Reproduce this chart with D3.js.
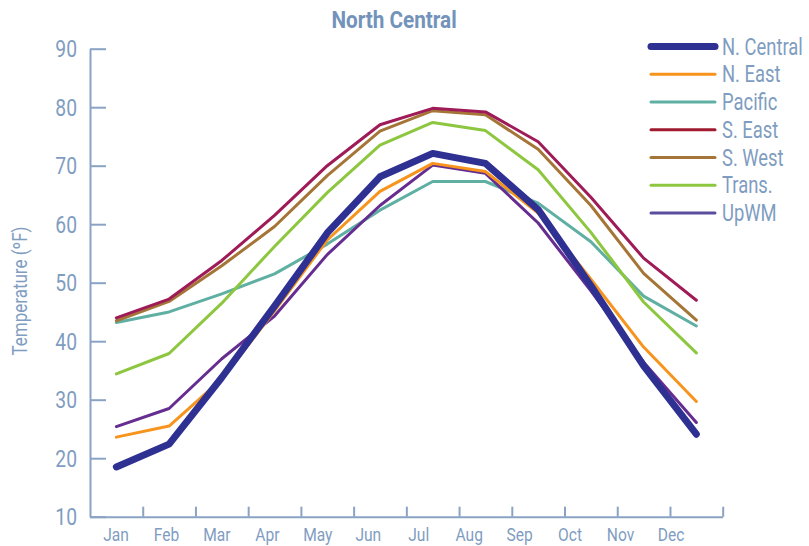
<!DOCTYPE html>
<html>
<head>
<meta charset="utf-8">
<script src="https://cdn.jsdelivr.net/npm/d3@7"></script>
<style>
  html, body { margin: 0; padding: 0; background: #fff; }
  svg { display: block; }
  text { font-family: Roboto, "Noto Sans", sans-serif; }
</style>
</head>
<body>
<svg id="chart" width="809" height="546"></svg>
<script>
const title = "North Central";
const yTitle = "Temperature (ºF)";
const months = ["Jan","Feb","Mar","Apr","May","Jun","Jul","Aug","Sep","Oct","Nov","Dec"];
const yTicks = [10,20,30,40,50,60,70,80,90];

const seriesNames = ["N. Central","N. East","Pacific","S. East","S. West","Trans.","UpWM"];
const nCentral = [18.5,22.4,33.8,46.0,58.5,68.1,72.1,70.4,62.5,49.5,35.8,24.1];
const nEast    = [23.6,25.5,33.5,45.2,57.3,65.6,70.4,69.0,61.9,50.6,39.0,29.7];
const pacific  = [43.2,45.0,48.1,51.5,56.6,62.4,67.3,67.3,63.6,57.0,47.7,42.6];
const sEast    = [44.0,47.2,53.8,61.5,70.0,77.0,79.8,79.2,74.1,64.6,54.2,47.0];
const sWest    = [43.5,46.8,52.9,59.6,68.3,75.9,79.4,78.7,72.8,63.2,51.6,43.6];
const trans    = [34.4,37.9,46.5,56.2,65.4,73.5,77.4,76.0,69.3,58.6,46.7,38.0];
const upwm     = [25.4,28.5,37.0,44.3,54.8,63.2,70.1,68.7,60.2,48.6,36.4,26.1];
const seriesValues = [nCentral, nEast, pacific, sEast, sWest, trans, upwm];

const colors = ["#2e3192","#f7941d","#5fafa3","#9e1b58","#a57537","#8dc63f","#662d91"];
const legendColors = ["#2e3192","#f7941d","#5fafa3","#a01a30","#a57537","#8dc63f","#5b4d9e"];
const widths = [7,3,3,3,3,3,3];

const axisColor = "#8aa3c4";
const textColor = "#7f9dc1";

const svg = d3.select("#chart");

const plotLeft = 90, plotRight = 722.7, plotTop = 48.7, plotBottom = 516.7;

const x = d3.scalePoint().domain(months).range([plotLeft, plotRight]).padding(0.5);
const xEdge = d3.scaleLinear().domain([0, 12]).range([plotLeft, plotRight]);
const xLabel = d3.scalePoint().domain(months).range([116, 671]);
const y = d3.scaleLinear().domain([10, 90]).range([plotBottom, plotTop]);

// horizontally condense a text element around its own anchor point
function squeeze(sel, sx) {
  sel.each(function () {
    const t = d3.select(this);
    const tx = +t.attr("x") || 0;
    const ty = +t.attr("y") || 0;
    t.attr("x", 0).attr("y", 0)
     .attr("transform", `translate(${tx},${ty}) scale(${sx},1)`);
  });
}

// Title
svg.append("text")
  .attr("x", 394).attr("y", 28)
  .attr("text-anchor", "middle")
  .attr("font-size", 23).attr("font-weight", "bold")
  .attr("fill", "#7393ba")
  .text(title)
  .call(squeeze, 0.9);

// Y axis
const yAxis = svg.append("g")
  .attr("transform", `translate(${plotLeft},0)`)
  .call(d3.axisLeft(y).tickValues(yTicks).tickSizeInner(-16).tickSizeOuter(0).tickPadding(13));
yAxis.select(".domain").attr("stroke", axisColor).attr("stroke-width", 2);
yAxis.selectAll(".tick line").attr("stroke", axisColor).attr("stroke-width", 2);
yAxis.selectAll(".tick text").attr("fill", textColor).attr("font-size", 23)
  .attr("font-family", "Roboto, sans-serif")
  .attr("dy", "0.36em")
  .call(squeeze, 0.84);

// X axis (ticks at month boundaries)
const xAxis = svg.append("g")
  .attr("transform", `translate(0,${plotBottom})`)
  .call(d3.axisBottom(xEdge).tickValues(d3.range(1, 13)).tickSizeInner(-10).tickSizeOuter(0).tickFormat(""));
xAxis.select(".domain").attr("stroke", axisColor).attr("stroke-width", 2);
xAxis.selectAll(".tick line").attr("stroke", axisColor).attr("stroke-width", 2);

svg.append("g").selectAll("text")
  .data(months).join("text")
  .attr("x", d => xLabel(d)).attr("y", 541)
  .attr("text-anchor", "middle")
  .attr("font-size", 19).attr("fill", textColor)
  .text(d => d)
  .call(squeeze, 0.82);

// Y title
svg.append("text")
  .attr("transform", `translate(27,291) rotate(-90) scale(0.85,1)`)
  .attr("text-anchor", "middle")
  .attr("font-size", 20).attr("fill", textColor)
  .text(yTitle);

// Lines
const line = d3.line()
  .x((d, i) => x(months[i]))
  .y(d => y(d))
  .curve(d3.curveLinear);

const order = [2, 4, 3, 5, 6, 1, 0];
svg.append("g").selectAll("path")
  .data(order).join("path")
  .attr("d", k => line(seriesValues[k]))
  .attr("fill", "none")
  .attr("stroke", k => colors[k])
  .attr("stroke-width", k => widths[k])
  .attr("stroke-linecap", "round")
  .attr("stroke-linejoin", "round");

// Legend
const legY = d3.scalePoint().domain(seriesNames).range([46.5, 213]);
const leg = svg.append("g");
leg.selectAll("line")
  .data(seriesNames).join("line")
  .attr("x1", 651).attr("x2", 715)
  .attr("y1", d => legY(d)).attr("y2", d => legY(d))
  .attr("stroke", (d, i) => legendColors[i])
  .attr("stroke-width", (d, i) => widths[i])
  .attr("stroke-linecap", "round");
leg.selectAll("text")
  .data(seriesNames).join("text")
  .attr("x", 722).attr("y", d => legY(d) + 8)
  .attr("font-size", 23).attr("fill", textColor)
  .text(d => d)
  .call(squeeze, 0.8);
</script>
</body>
</html>
